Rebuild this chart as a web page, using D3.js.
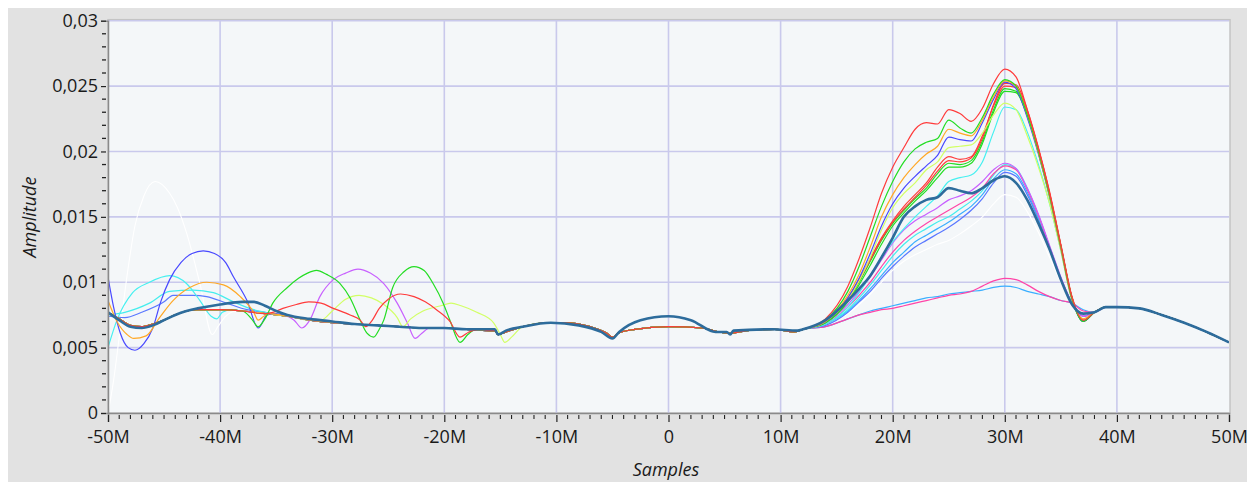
<!DOCTYPE html>
<html><head><meta charset="utf-8">
<script src="https://cdn.jsdelivr.net/npm/d3@7"></script>
<style>body{margin:0;background:#fff;} svg{display:block}</style>
</head><body><svg id="c" width="1247" height="484"></svg>
<script>
// ---------- DATA (x in millions of samples, y = amplitude) ----------
const xTickValues = [-50, -40, -30, -20, -10, 0, 10, 20, 30, 40, 50];
const xTickLabels = ["-50M", "-40M", "-30M", "-20M", "-10M", "0", "10M", "20M", "30M", "40M", "50M"];
const yTickValues = [0, 0.005, 0.01, 0.015, 0.02, 0.025, 0.03];
const yTickLabels = ["0", "0,005", "0,01", "0,015", "0,02", "0,025", "0,03"];

// shared baseline, left part (most series)
const baseLeft = [[-50,0.0077],[-49,0.0072],[-48,0.0067],[-47,0.0066],[-46,0.0068],[-45,0.0071],[-44,0.0075],[-43,0.0078],[-42,0.0079],[-40,0.0079],[-38,0.0078],[-36,0.0076],[-34,0.0074],[-32,0.0071],[-30,0.0069],[-28,0.0068],[-26,0.0067],[-24,0.0066],[-22,0.0065],[-20,0.0065],[-18,0.0064],[-16,0.0063]];
// shared baseline, middle part
const baseMid = [[-15.5,0.0063],[-15.2,0.0060],[-14.5,0.0062],[-13,0.0066],[-11,0.0069],[-9,0.0069],[-7,0.0066],[-5.5,0.0061],[-5,0.0058],[-4.5,0.0061],[-3,0.0064],[0,0.0066],[3,0.0065],[4.5,0.0062],[5.5,0.0061],[7,0.0063],[9.5,0.0064],[11.2,0.0062]];
// highlighted (thick) series, left and middle parts
const mainLeft = [[-50,0.0077],[-49,0.0071],[-48,0.0066],[-47,0.0065],[-46,0.0067],[-45,0.0071],[-44,0.0075],[-43,0.0078],[-42,0.0080],[-40,0.0083],[-38,0.0085],[-37,0.0085],[-36,0.0082],[-35,0.0078],[-34,0.0075],[-32,0.0072],[-30,0.0070],[-28,0.0068],[-26,0.0067],[-24,0.0066],[-22,0.0065],[-20,0.0065],[-18,0.0064],[-16,0.0064]];
const mainMid = [[-15.5,0.0064],[-15.2,0.0060],[-14.5,0.0063],[-13,0.0066],[-10.5,0.0069],[-8,0.0067],[-6,0.0062],[-5,0.0057],[-4.4,0.0062],[-2.5,0.0071],[0,0.0074],[2,0.0071],[4.2,0.0062],[5.2,0.0062],[5.5,0.0060],[5.8,0.0063],[9.3,0.0064],[11.5,0.0063]];
// shared tail after the main peak
const tail = [[38,0.0077],[39,0.0081],[40,0.0081],[42,0.0080],[44,0.0075],[46,0.0069],[48,0.0062],[50,0.0054]];

// peak-region sample positions
const peakX = [12,14,16,17,18,19,20,21,22,23,24,25,26,27,28,29,30,31,32,33,34,35,36,37];

// peak-region values per series
const redTop   = [0.0064,0.0072,0.0097,0.0118,0.0142,0.0168,0.0188,0.0203,0.0217,0.0222,0.0221,0.0232,0.0229,0.0223,0.0233,0.0252,0.0263,0.0257,0.0232,0.0202,0.0168,0.0128,0.0088,0.0071];
const greenTop = [0.0064,0.0071,0.0093,0.0112,0.0135,0.0158,0.0177,0.0192,0.0202,0.0207,0.0210,0.0224,0.0218,0.0214,0.0226,0.0244,0.0255,0.0250,0.0228,0.0200,0.0166,0.0127,0.0087,0.0070];
const orangeTop= [0.0064,0.0070,0.0090,0.0106,0.0127,0.0150,0.0167,0.0180,0.0190,0.0198,0.0204,0.0217,0.0214,0.0212,0.0224,0.0242,0.0254,0.0250,0.0228,0.0199,0.0165,0.0126,0.0087,0.0072];
const blueTop  = [0.0064,0.0070,0.0088,0.0103,0.0122,0.0143,0.0160,0.0172,0.0181,0.0189,0.0197,0.0211,0.0209,0.0208,0.0222,0.0240,0.0253,0.0248,0.0226,0.0198,0.0165,0.0126,0.0087,0.0070];
const limeTop  = [0.0064,0.0070,0.0087,0.0101,0.0119,0.0140,0.0157,0.0168,0.0176,0.0186,0.0192,0.0203,0.0204,0.0205,0.0214,0.0228,0.0237,0.0232,0.0212,0.0188,0.0160,0.0124,0.0086,0.0072];
const red2     = [0.0064,0.0070,0.0088,0.0102,0.0118,0.0134,0.0147,0.0158,0.0167,0.0176,0.0188,0.0196,0.0194,0.0196,0.0212,0.0235,0.0250,0.0249,0.0230,0.0202,0.0168,0.0128,0.0088,0.0070];
const green2   = [0.0064,0.0069,0.0086,0.0100,0.0116,0.0132,0.0145,0.0155,0.0164,0.0172,0.0183,0.0191,0.0190,0.0193,0.0208,0.0232,0.0248,0.0246,0.0228,0.0200,0.0167,0.0128,0.0088,0.0070];
const green3   = [0.0064,0.0069,0.0085,0.0098,0.0113,0.0129,0.0143,0.0153,0.0162,0.0170,0.0180,0.0188,0.0188,0.0191,0.0206,0.0230,0.0246,0.0245,0.0227,0.0199,0.0166,0.0127,0.0088,0.0070];
const red3     = [0.0064,0.0070,0.0087,0.0101,0.0117,0.0133,0.0146,0.0156,0.0165,0.0174,0.0185,0.0193,0.0192,0.0195,0.0210,0.0236,0.0252,0.0251,0.0232,0.0203,0.0169,0.0129,0.0089,0.0071];
const cyanTop  = [0.0064,0.0068,0.0081,0.0092,0.0105,0.0119,0.0131,0.0141,0.0150,0.0158,0.0166,0.0177,0.0180,0.0182,0.0192,0.0215,0.0234,0.0232,0.0215,0.0190,0.0160,0.0124,0.0086,0.0072];
const mainPeak = [0.0064,0.0071,0.0086,0.0095,0.0105,0.0119,0.0134,0.0150,0.0158,0.0163,0.0165,0.0172,0.0170,0.0168,0.0172,0.0178,0.0181,0.0176,0.0163,0.0145,0.0125,0.0102,0.0083,0.0076];
const violetMid= [0.0064,0.0069,0.0083,0.0093,0.0104,0.0117,0.0130,0.0140,0.0147,0.0152,0.0157,0.0163,0.0166,0.0170,0.0177,0.0186,0.0191,0.0187,0.0172,0.0152,0.0128,0.0104,0.0084,0.0074];
const pinkMid  = [0.0064,0.0068,0.0081,0.0090,0.0100,0.0112,0.0123,0.0132,0.0139,0.0145,0.0150,0.0155,0.0160,0.0165,0.0172,0.0183,0.0189,0.0186,0.0171,0.0151,0.0127,0.0103,0.0084,0.0074];
const cyanMid  = [0.0064,0.0068,0.0079,0.0088,0.0098,0.0109,0.0120,0.0129,0.0136,0.0141,0.0146,0.0150,0.0156,0.0162,0.0170,0.0182,0.0190,0.0187,0.0172,0.0151,0.0127,0.0103,0.0084,0.0074];
const skyMid   = [0.0064,0.0068,0.0078,0.0086,0.0095,0.0105,0.0115,0.0123,0.0131,0.0136,0.0141,0.0146,0.0152,0.0158,0.0167,0.0179,0.0186,0.0183,0.0169,0.0149,0.0126,0.0103,0.0084,0.0074];
const blueMid  = [0.0064,0.0067,0.0077,0.0085,0.0093,0.0103,0.0112,0.0120,0.0127,0.0132,0.0137,0.0142,0.0148,0.0155,0.0164,0.0176,0.0184,0.0181,0.0167,0.0148,0.0125,0.0102,0.0084,0.0074];
const whiteMid = [0.0064,0.0067,0.0076,0.0083,0.0091,0.0100,0.0109,0.0116,0.0121,0.0125,0.0129,0.0132,0.0137,0.0143,0.0150,0.0160,0.0167,0.0165,0.0154,0.0138,0.0119,0.0100,0.0084,0.0074];
const pinkLow  = [0.0064,0.0066,0.0072,0.0075,0.0077,0.0079,0.0080,0.0082,0.0084,0.0086,0.0088,0.0090,0.0091,0.0093,0.0097,0.0101,0.0103,0.0102,0.0098,0.0093,0.0089,0.0086,0.0084,0.0078];
const skyLow   = [0.0064,0.0066,0.0072,0.0075,0.0078,0.0080,0.0082,0.0084,0.0086,0.0088,0.0089,0.0091,0.0092,0.0093,0.0094,0.0096,0.0097,0.0096,0.0093,0.0091,0.0089,0.0086,0.0084,0.0079];

// left-region lobes that depart from the shared baseline
const whiteLobe = [[-50,0.0000],[-49.5,0.0025],[-49,0.0058],[-48.3,0.0105],[-47.6,0.0143],[-46.8,0.0166],[-45.8,0.0177],[-44.5,0.0168],[-43.8,0.0157],[-43,0.0138],[-41.8,0.0099],[-40.7,0.0060],[-40.2,0.0066],[-39.5,0.0074],[-38.5,0.0078]];
const blueLobe = [[-50,0.0104],[-49.5,0.0081],[-48.9,0.0061],[-48.2,0.0050],[-47.6,0.0048],[-46.8,0.0053],[-46,0.0065],[-45.3,0.0085],[-44.5,0.0102],[-43.5,0.0115],[-42.5,0.0122],[-41.5,0.0124],[-40.5,0.0122],[-39.5,0.0115],[-38.8,0.0104],[-37.6,0.0086],[-36.6,0.0065],[-35.8,0.0075],[-35,0.0076]];
const cyanLobe = [[-50,0.0050],[-49.2,0.0071],[-47.8,0.0092],[-46.3,0.0100],[-44.5,0.0105],[-43,0.0099],[-41.8,0.0086],[-40.8,0.0074],[-40.3,0.0072],[-39.8,0.0077],[-39,0.0079]];
const cyanLobe2 = [[-50,0.0075],[-48.5,0.0077],[-46.3,0.0084],[-44.5,0.0093],[-42.4,0.0094],[-40.6,0.0092],[-38.8,0.0085],[-37,0.0079],[-36,0.0077]];
const blueLobe2 = [[-50,0.0074],[-48.5,0.0073],[-47,0.0077],[-45,0.0085],[-44.2,0.0090],[-42.4,0.0090],[-41.2,0.0089],[-39.4,0.0084],[-37.6,0.0079],[-36,0.0077]];
const orangeLobe = [[-50,0.0086],[-49.2,0.0070],[-48.3,0.0060],[-47.7,0.0057],[-46.6,0.0059],[-45.4,0.0073],[-44.2,0.0086],[-42.7,0.0096],[-41.2,0.0100],[-39.7,0.0098],[-38.2,0.0089],[-37,0.0077],[-36.6,0.0071],[-36.1,0.0074],[-35.5,0.0076]];
const greenLobe = [[-38,0.0078],[-37.2,0.0072],[-36.6,0.0066],[-36,0.0072],[-35.3,0.0084],[-34,0.0096],[-33,0.0103],[-32.2,0.0107],[-31.4,0.0109],[-30.5,0.0106],[-29.3,0.0099],[-28.4,0.0088],[-27.5,0.0071],[-26.9,0.0061],[-26.3,0.0058],[-25.8,0.0064],[-25.4,0.0071],[-24.6,0.0096],[-23.6,0.0108],[-22.7,0.0112],[-21.8,0.0109],[-21,0.0099],[-20.1,0.0084],[-19.5,0.0071],[-18.6,0.0054],[-17.9,0.0060],[-17.2,0.0064]];
const violetLobe = [[-34.5,0.0075],[-33.4,0.0071],[-32.7,0.0065],[-32,0.0071],[-31.1,0.0089],[-29.9,0.0102],[-28.8,0.0107],[-27.7,0.0110],[-26.6,0.0107],[-25.4,0.0099],[-24.2,0.0084],[-23.3,0.0069],[-22.6,0.0057],[-22,0.0061],[-21.3,0.0065]];
const redLobe = [[-36,0.0076],[-35.3,0.0077],[-34.4,0.0080],[-33.2,0.0083],[-32.1,0.0085],[-31,0.0084],[-29.9,0.0080],[-28.4,0.0075],[-27.5,0.0071],[-27,0.0066],[-26.5,0.0070],[-25.8,0.0080],[-25,0.0087],[-23.9,0.0091],[-22.7,0.0089],[-21.7,0.0085],[-20.7,0.0079],[-19.5,0.0070],[-18.6,0.0058],[-17.8,0.0062],[-17,0.0064]];
const limeLobe = [[-31,0.0071],[-30,0.0078],[-28.8,0.0087],[-27.6,0.0090],[-26.5,0.0088],[-25.4,0.0083],[-24.2,0.0073],[-23.7,0.0066],[-23,0.0072],[-21.9,0.0078],[-20.3,0.0082],[-19.4,0.0084],[-18.5,0.0082],[-17.1,0.0077],[-15.6,0.0069],[-15,0.0060],[-14.6,0.0054],[-14,0.0058],[-13.2,0.0065]];

// ---------- series → style mapping (drawing order) ----------
const seriesDefs = [
  {peak: whiteMid,  lobe: whiteLobe,  color: "#ffffff", w: 1.1},
  {peak: skyLow,    lobe: null,       color: "#3aaeff", w: 1.2},
  {peak: pinkLow,   lobe: null,       color: "#ff45a8", w: 1.2},
  {peak: blueMid,   lobe: blueLobe2,  color: "#5a78ff", w: 1.2},
  {peak: skyMid,    lobe: null,       color: "#3aaeff", w: 1.2},
  {peak: cyanMid,   lobe: cyanLobe2,  color: "#45eded", w: 1.2},
  {peak: pinkMid,   lobe: null,       color: "#ff45a8", w: 1.2},
  {peak: violetMid, lobe: violetLobe, color: "#c860ff", w: 1.2},
  {peak: cyanTop,   lobe: cyanLobe,   color: "#45f0f0", w: 1.2},
  {peak: green3,    lobe: null,       color: "#22dd22", w: 1.2},
  {peak: green2,    lobe: null,       color: "#22dd22", w: 1.2},
  {peak: red3,      lobe: null,       color: "#ff3b3b", w: 1.2},
  {peak: red2,      lobe: null,       color: "#ff3b3b", w: 1.2},
  {peak: limeTop,   lobe: limeLobe,   color: "#d2ff66", w: 1.2},
  {peak: blueTop,   lobe: blueLobe,   color: "#4848ff", w: 1.2},
  {peak: orangeTop, lobe: orangeLobe, color: "#ffa826", w: 1.2},
  {peak: greenTop,  lobe: greenLobe,  color: "#22dd22", w: 1.2},
  {peak: redTop,    lobe: redLobe,    color: "#ff3b3b", w: 1.2},
  {peak: mainPeak,  lobe: null,       color: "#2d6c9c", w: 2.6, main: true}
];

// ---------- LAYOUT ----------
const W = 1247, H = 484;
const L = 108, R = 1229, T = 20.7, B = 413;
const svg = d3.select("#c");
svg.append("rect").attr("x", 8).attr("y", 8).attr("width", W - 8).attr("height", H - 10).attr("fill", "#e2e2e2");
svg.append("rect").attr("x", L).attr("y", T - 1).attr("width", R - L + 1).attr("height", B - T + 1)
   .attr("fill", "#f4f7f9").attr("stroke", "#c4c4c4").attr("stroke-width", 1.5);

const x = d3.scaleLinear().domain([-50, 50]).range([L, R]);
const y = d3.scaleLinear().domain([0, 0.03]).range([B, T]);

// grid
const grid = svg.append("g");
grid.selectAll("line.v").data(xTickValues.slice(1, -1)).join("line")
  .attr("x1", d => x(d)).attr("x2", d => x(d)).attr("y1", T).attr("y2", B)
  .attr("stroke", "#c9c9ec").attr("stroke-width", 1.6);
grid.selectAll("line.h").data(yTickValues.slice(1)).join("line")
  .attr("x1", L).attr("x2", R).attr("y1", d => y(d)).attr("y2", d => y(d))
  .attr("stroke", "#c9c9ec").attr("stroke-width", 1.6);

// series
svg.append("clipPath").attr("id", "clip").append("rect")
  .attr("x", L).attr("y", T).attr("width", R - L).attr("height", B - T);

function buildPoints(def) {
  let base = def.main ? mainLeft.concat(mainMid) : baseLeft.concat(baseMid);
  if (def.lobe) {
    const x0 = def.lobe[0][0], x1 = def.lobe[def.lobe.length - 1][0];
    base = base.filter(p => p[0] < x0 || p[0] > x1).concat(def.lobe).sort((a, b) => a[0] - b[0]);
  }
  const pk = peakX.map((px, i) => [px, def.peak[i]]);
  return base.concat(pk).concat(tail);
}
const line = d3.line().x(d => x(d[0])).y(d => y(d[1])).curve(d3.curveMonotoneX);
const gs = svg.append("g").attr("clip-path", "url(#clip)");
seriesDefs.forEach(def => {
  gs.append("path").attr("d", line(buildPoints(def))).attr("fill", "none")
    .attr("stroke", def.color).attr("stroke-width", def.w).attr("stroke-linejoin", "round");
});

// axes
const font = "'Open Sans', 'Noto Sans', sans-serif";
const yAxis = d3.axisLeft(y).tickValues(yTickValues).tickFormat((d, i) => yTickLabels[i]).tickSize(7).tickPadding(3);
const gy = svg.append("g").attr("transform", `translate(${L},0)`).call(yAxis);
const xAxis = d3.axisBottom(x).tickValues(xTickValues).tickFormat((d, i) => xTickLabels[i]).tickSize(9).tickPadding(8);
const gx = svg.append("g").attr("transform", `translate(0,${B})`).call(xAxis);
[gy, gx].forEach(g => {
  g.select(".domain").attr("stroke", "#8a8a8a").attr("stroke-width", 1.5);
  g.selectAll(".tick line").attr("stroke", "#222").attr("stroke-width", 1.2);
  g.selectAll(".tick text").attr("fill", "#1a1a1a").style("font-family", font).style("font-size", "18px");
});
gy.selectAll(".tick line").attr("x1", -2);
gx.selectAll(".tick line").attr("y1", 2);

// minor ticks
const yMinor = d3.range(0, 0.03001, 0.001).filter(v => Math.abs(v / 0.005 - Math.round(v / 0.005)) > 1e-6);
svg.append("g").selectAll("line").data(yMinor).join("line")
  .attr("x1", L - 6).attr("x2", L - 2).attr("y1", d => y(d)).attr("y2", d => y(d))
  .attr("stroke", "#222").attr("stroke-width", 1.3);
const xMinor = d3.range(-50, 50.001, 1).filter(v => Math.abs(v % 10) > 1e-6);
svg.append("g").selectAll("line").data(xMinor).join("line")
  .attr("x1", d => x(d)).attr("x2", d => x(d)).attr("y1", B + 2).attr("y2", B + 6)
  .attr("stroke", "#222").attr("stroke-width", 1.1);

// axis titles
svg.append("text").attr("x", 666).attr("y", 476).attr("text-anchor", "middle")
  .style("font-family", font).style("font-size", "18px").style("font-style", "italic").attr("fill", "#1a1a1a")
  .text("Samples");
svg.append("text").attr("transform", "translate(36,217) rotate(-90)").attr("text-anchor", "middle")
  .style("font-family", font).style("font-size", "18px").style("font-style", "italic").attr("fill", "#1a1a1a")
  .text("Amplitude");
</script></body></html>
